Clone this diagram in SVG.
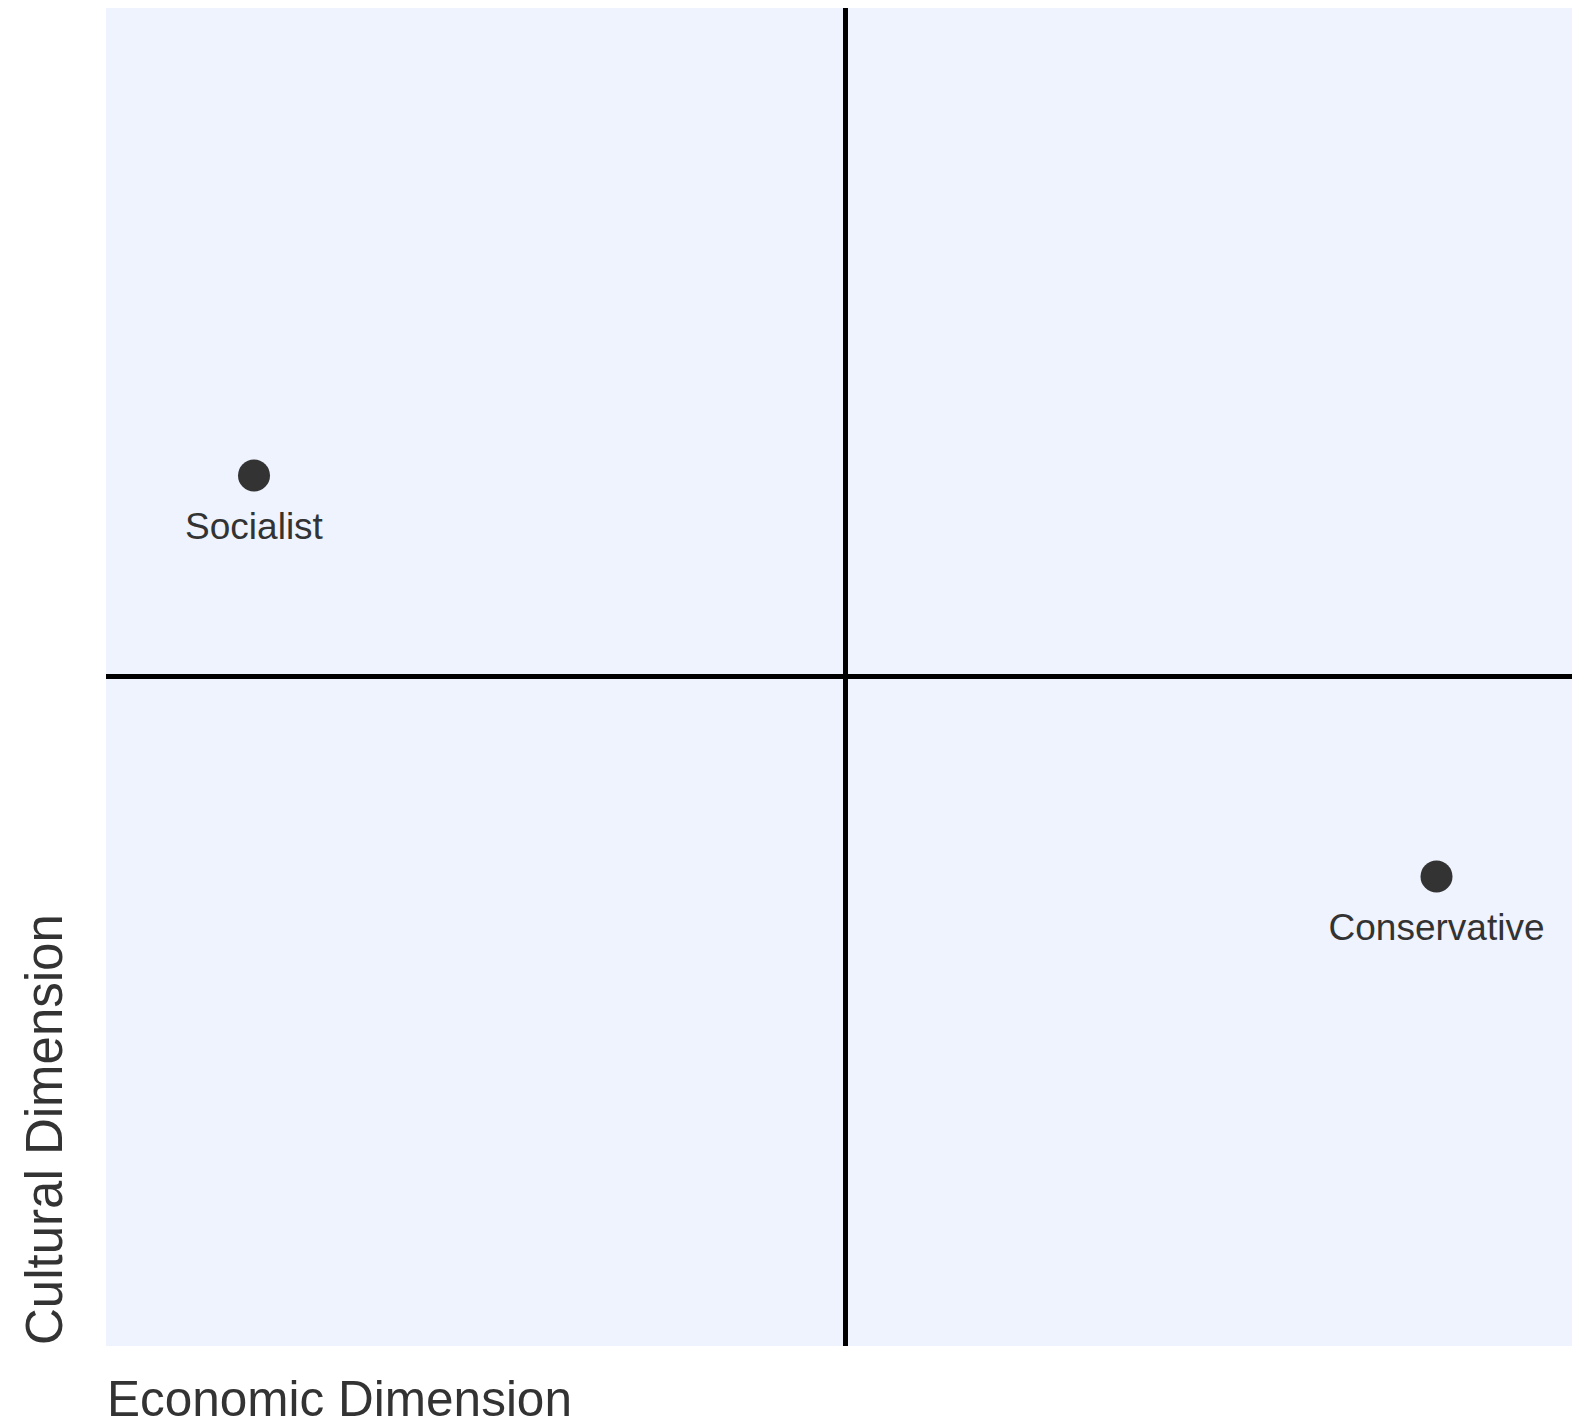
<svg xmlns="http://www.w3.org/2000/svg" width="1572" height="1424" viewBox="0 0 1572 1424">
<style>
.quad{fill:#EEF3FE;stroke:none}
.divider{stroke:#000;stroke-width:5;fill:none}
.pt{fill:#333333}
.pl{font-family:"Liberation Sans",Arial,sans-serif;font-size:37px;fill:#333333;text-anchor:middle}
.ax{font-family:"Liberation Sans",Arial,sans-serif;font-size:49.5px;fill:#333333;text-anchor:start}
</style>
<rect width="1572" height="1424" fill="#ffffff"/>
<g id="quadrants">
<rect class="quad" x="106" y="8" width="739" height="669"/>
<rect class="quad" x="845" y="8" width="739" height="669"/>
<rect class="quad" x="106" y="677" width="739" height="669"/>
<rect class="quad" x="845" y="677" width="739" height="669"/>
</g>
<g id="connectors">
<line class="divider" x1="845.5" y1="8" x2="845.5" y2="1346"/>
<line class="divider" x1="106" y1="676.5" x2="1584" y2="676.5"/>
</g>
<g id="socialist">
<circle class="pt" cx="254" cy="475.5" r="16"/>
<text class="pl" x="254" y="539">Socialist</text>
</g>
<g id="conservative">
<circle class="pt" cx="1436.5" cy="876.5" r="16"/>
<text class="pl" x="1436.5" y="940">Conservative</text>
</g>
<g id="x-axis-label">
<text class="ax" x="107" y="1416">Economic Dimension</text>
</g>
<g id="y-axis-label">
<text class="ax" style="font-size:51px" transform="translate(62,1345) rotate(-90)">Cultural Dimension</text>
</g>
</svg>
